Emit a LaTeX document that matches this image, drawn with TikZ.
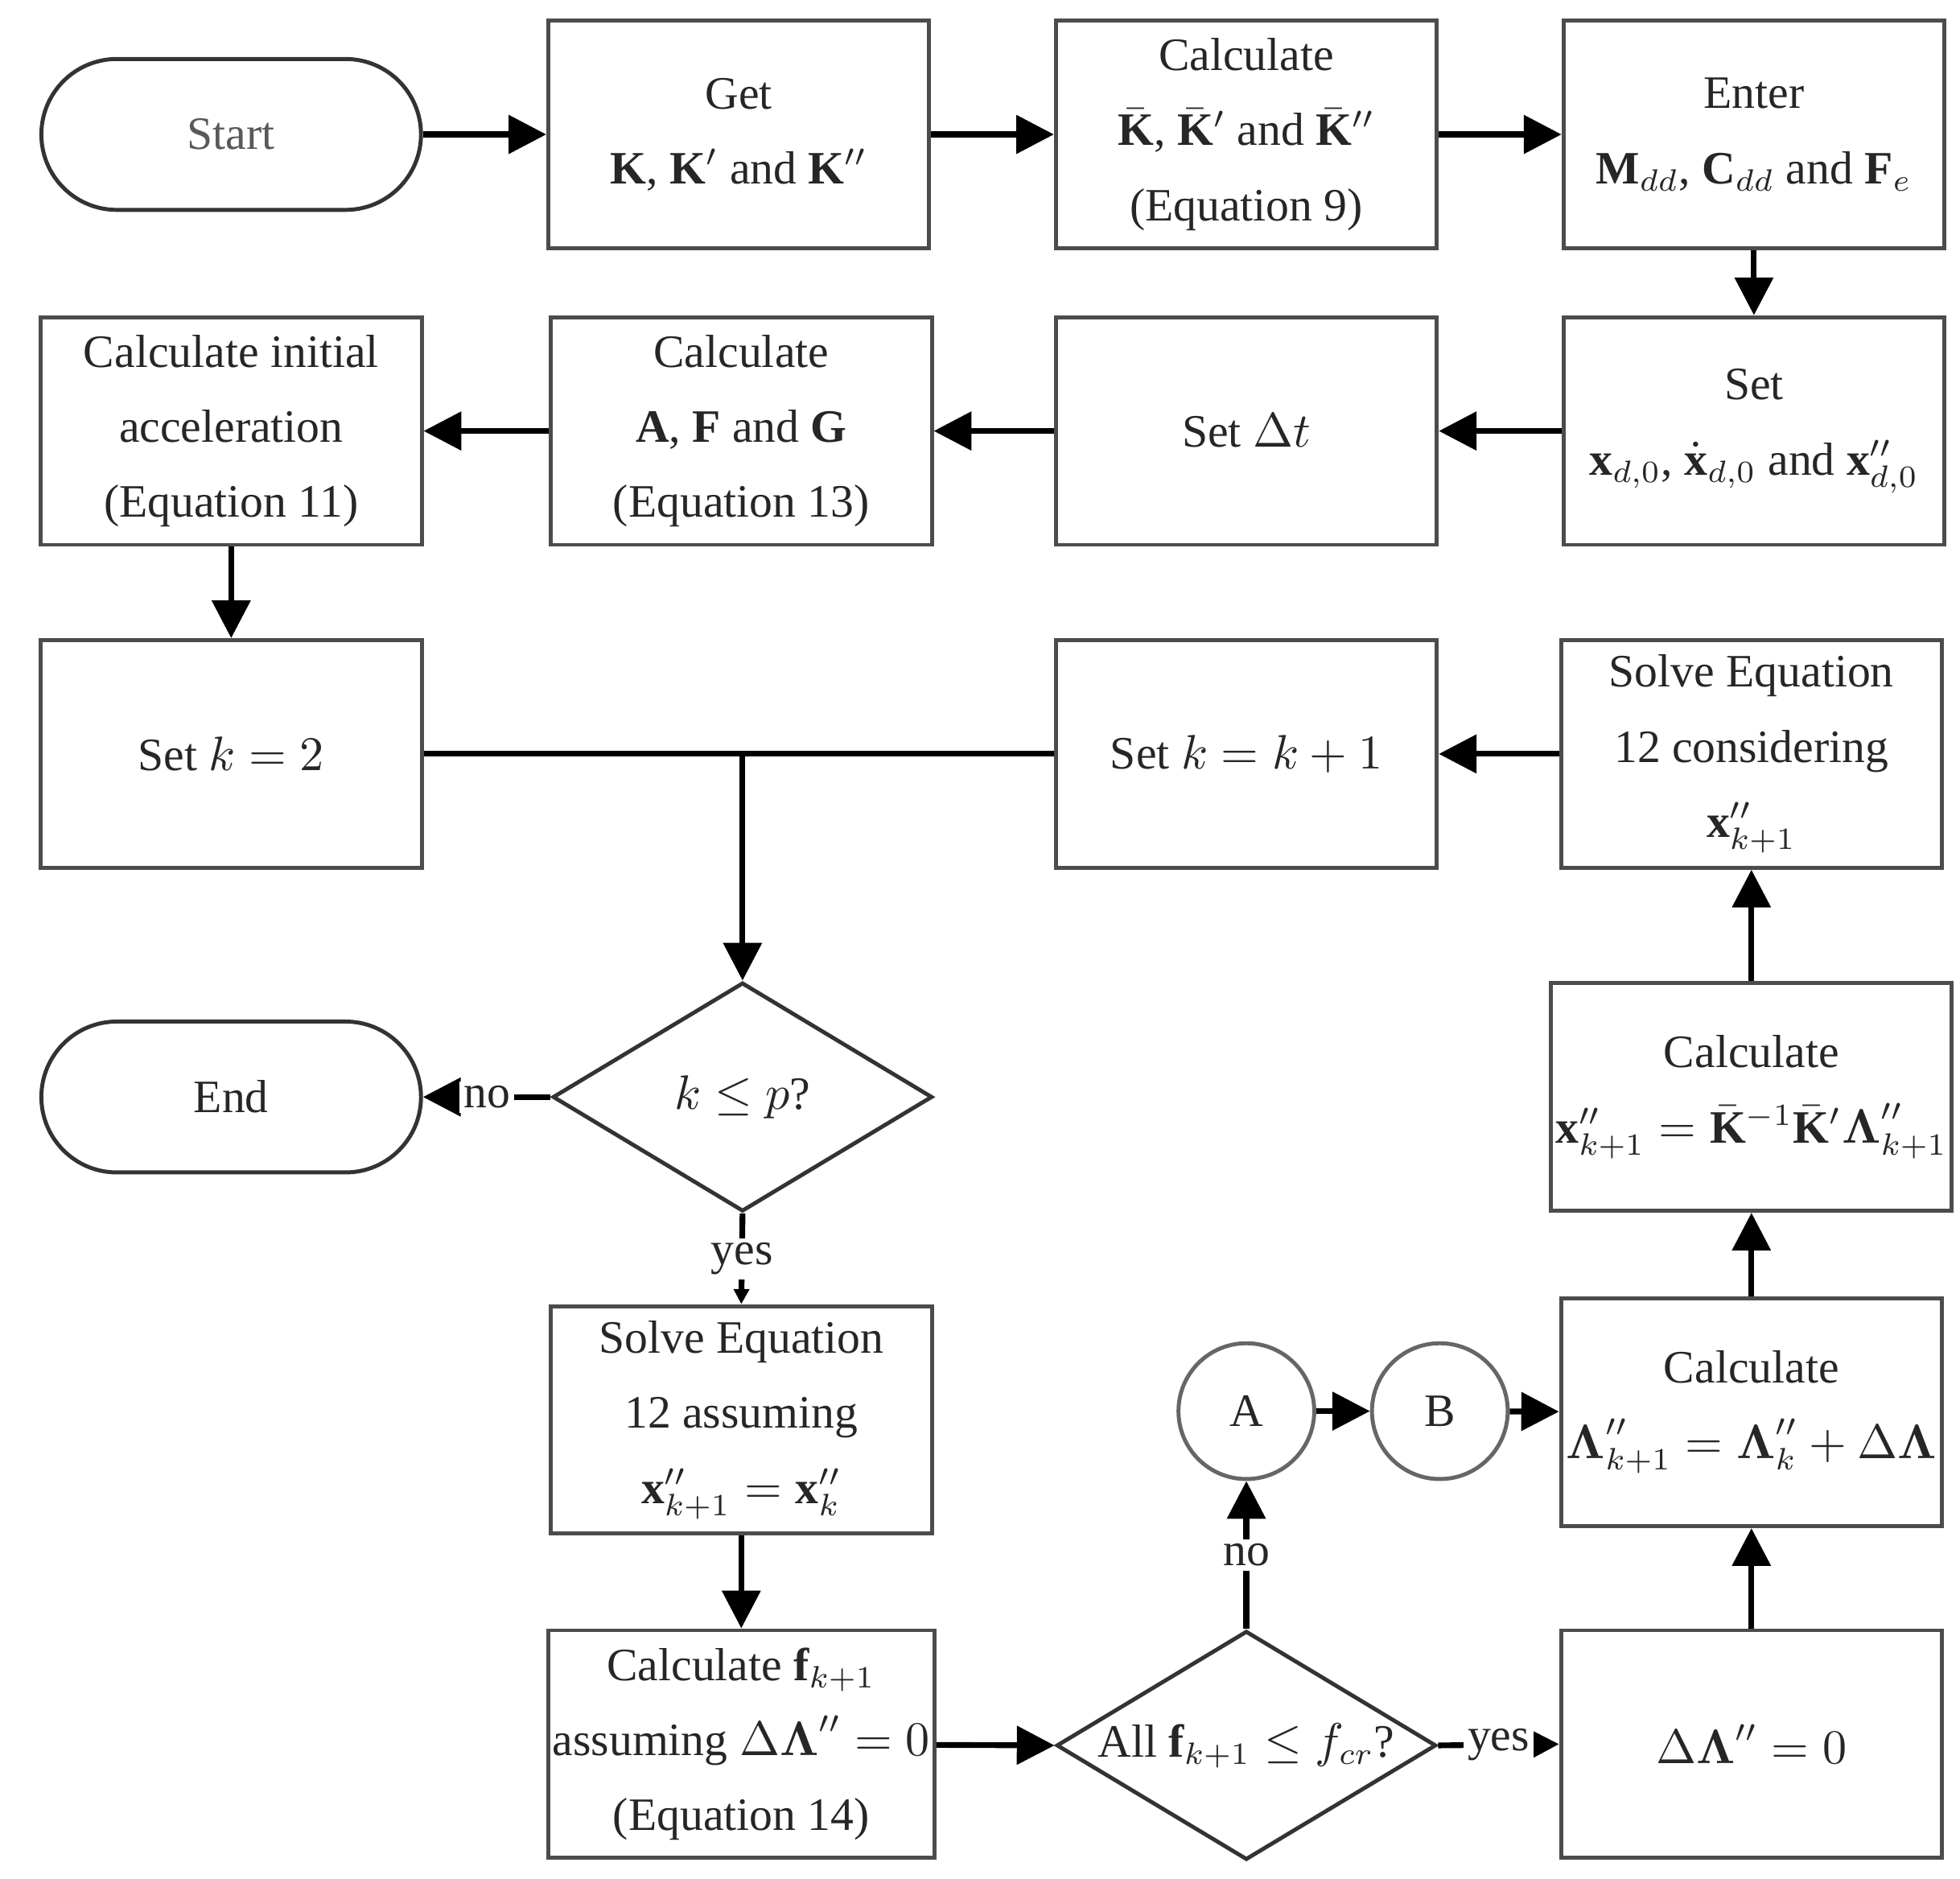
\documentclass[tikz,border=0pt]{standalone}
\usepackage{amsmath,amssymb}
\usepackage{fontspec}
\setmainfont{Liberation Serif}
\usetikzlibrary{shapes.geometric,arrows.meta}
\newcommand{\bL}{\boldsymbol{\Lambda}}
\begin{document}
\begin{tikzpicture}[x=0.01cm,y=-0.01cm,
 every node/.style={font=\fontsize{10.5}{17}\selectfont,text=black!85},
 box/.style={draw=black!70,line width=0.9pt,minimum width=3.03cm,minimum height=1.81cm,align=center,inner sep=1pt},
 term/.style={draw=black!80,line width=0.9pt,rounded corners=0.6cm,minimum width=3.02cm,minimum height=1.2cm},
 dia/.style={diamond,draw=black!80,line width=0.9pt,minimum width=3.02cm,minimum height=1.82cm,inner sep=0pt,aspect=1.66},
 circ/.style={circle,draw=black!60,line width=0.9pt,minimum size=1.08cm},
 arr/.style={line width=1.3pt,-{Triangle[length=0.3cm,width=0.3cm]}},
 ln/.style={line width=1.3pt},
 lab/.style={fill=white,inner sep=1pt}]
\useasboundingbox (0,0) rectangle (1560,1495);
\node[term,text=black!65] (start) at (184,107) {Start};
\node[box] (get) at (588,107) {Get\\ $\mathbf K$, $\mathbf K'$ and $\mathbf K''$};
\node[box] (calck) at (992,107) {Calculate\\ $\bar{\mathbf K}$, $\bar{\mathbf K}'$ and $\bar{\mathbf K}''$\\ (Equation 9)};
\node[box] (enter) at (1396,107) {Enter\\ $\mathbf M_{dd}$, $\mathbf C_{dd}$ and $\mathbf F_e$};
\node[box] (set0) at (1396,343) {Set\\ $\mathbf x_{d,0}$, $\dot{\mathbf x}_{d,0}$ and $\mathbf x''_{d,0}$};
\node[box] (setdt) at (992,343) {Set $\Delta t$};
\node[box] (cafg) at (590,343) {Calculate\\ $\mathbf A$, $\mathbf F$ and $\mathbf G$\\ (Equation 13)};
\node[box] (init) at (184,343) {Calculate initial\\ acceleration\\ (Equation 11)};
\node[box] (k2) at (184,600) {Set $k=2$};
\node[box] (k1) at (992,600) {Set $k=k+1$};
\node[box] (solc) at (1394,600) {Solve Equation\\ 12 considering\\ $\mathbf x''_{k+1}$};
\node[dia] (kp) at (591,873) {$k\le p$?};
\node[term] (end) at (184,873) {End};
\node[box] (sola) at (590,1130) {Solve Equation\\ 12 assuming\\ $\mathbf x''_{k+1}=\mathbf x''_k$};
\node[box] (cf) at (590,1388) {Calculate $\mathbf f_{k+1}$\\ assuming $\Delta\bL''=0$\\ (Equation 14)};
\node[dia] (all) at (992,1389) {All $\mathbf f_{k+1}\le f_{cr}$?};
\node[box] (dl) at (1394,1388) {$\Delta\bL''=0$};
\node[box] (cl) at (1394,1124) {Calculate\\ $\bL''_{k+1}=\bL''_k+\Delta\bL$};
\node[box] (cx) at (1394,873) {Calculate\\ $\mathbf x''_{k+1}=\bar{\mathbf K}^{-1}\bar{\mathbf K}'\bL''_{k+1}$};
\node[circ] (A) at (992,1123) {A};
\node[circ] (B) at (1146,1123) {B};
\coordinate (j) at (591,600);
\draw[arr] (start) -- (get);
\draw[arr] (get) -- (calck);
\draw[arr] (calck) -- (enter);
\draw[arr] (enter) -- (set0);
\draw[arr] (set0) -- (setdt);
\draw[arr] (setdt) -- (cafg);
\draw[arr] (cafg) -- (init);
\draw[arr] (init) -- (k2);
\draw[ln] (k2.east) -- (k1.west);
\draw[arr] (j) -- (kp.north);
\draw[arr] (solc) -- (k1);
\draw[arr] (kp.west) -- node[lab]{no} (end.east);
\draw[ln,-{Triangle[length=0.12cm,width=0.12cm]}] (kp.south) -- node[lab]{yes} (sola.north);
\draw[arr] (sola) -- (cf);
\draw[arr] (cf) -- (all.west);
\draw[arr] (all.east) -- node[lab]{yes} (dl.west);
\draw[arr] (all.north) -- node[lab]{no} (A.south);
\draw[arr] (A) -- (B);
\draw[arr] (B) -- (cl);
\draw[arr] (dl) -- (cl);
\draw[arr] (cl) -- (cx);
\draw[arr] (cx) -- (solc);
\end{tikzpicture}
\end{document}
